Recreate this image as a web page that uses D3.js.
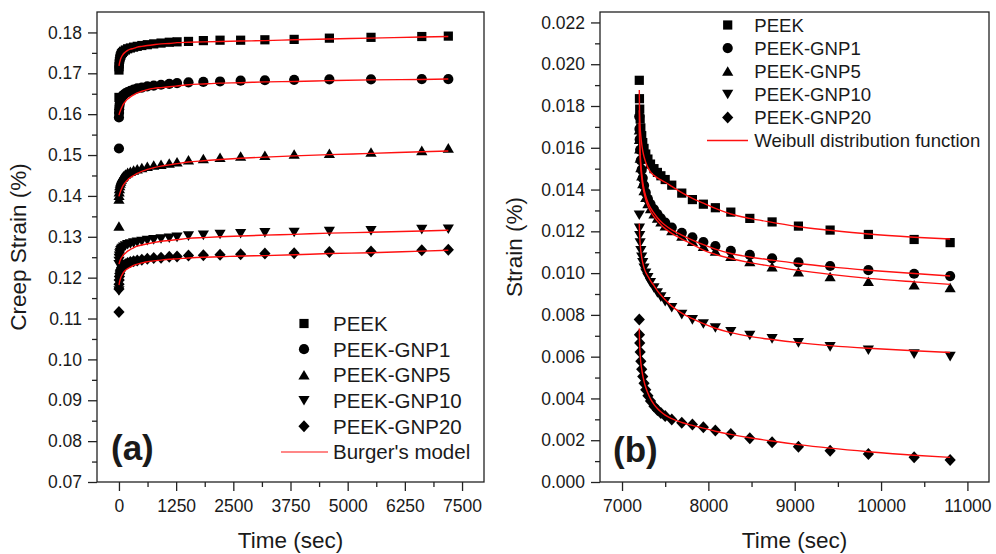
<!DOCTYPE html>
<html>
<head>
<meta charset="utf-8">
<style>
    body { margin: 0; background: #fff; }
    svg text { font-family: "Liberation Sans", Arial, sans-serif; fill: #1a1a1a; }
</style>
</head>
<body>
<script src="https://cdn.jsdelivr.net/npm/d3@7"></script>
<script>
var width = 996,
    height = 554;

var seriesNames = ["PEEK", "PEEK-GNP1", "PEEK-GNP5", "PEEK-GNP10", "PEEK-GNP20"];
var symbols = ["square", "circle", "triangle", "triangleDown", "diamond"];

// (a) creep, time in sec
var timeA = [0, 2, 5, 10, 18, 28, 40, 55, 75, 100, 140, 190, 250, 320, 400, 500, 620, 760, 920, 1100, 1270, 1520, 1845, 2210, 2660, 3190, 3830, 4600, 5510, 6620, 7200];
var peekA = [0.1708, 0.1716, 0.1723, 0.1729, 0.1735, 0.1740, 0.1744, 0.1748, 0.1751, 0.1754, 0.1757, 0.1760, 0.1762, 0.1764, 0.1766, 0.1768, 0.1770, 0.1772, 0.1774, 0.1776, 0.1777, 0.1778, 0.1780, 0.1781, 0.1781, 0.1782, 0.1783, 0.1786, 0.1788, 0.1790, 0.1791];
var gnp1A = [0.1592, 0.1603, 0.1612, 0.1620, 0.1627, 0.1632, 0.1637, 0.1641, 0.1644, 0.1647, 0.1651, 0.1654, 0.1657, 0.1660, 0.1663, 0.1665, 0.1668, 0.1670, 0.1672, 0.1674, 0.1676, 0.1678, 0.1679, 0.1680, 0.1682, 0.1683, 0.1684, 0.1685, 0.1685, 0.1686, 0.1686];
var gnp5A = [0.1392, 0.1401, 0.1410, 0.1418, 0.1425, 0.1431, 0.1436, 0.1441, 0.1445, 0.1449, 0.1453, 0.1457, 0.1460, 0.1463, 0.1466, 0.1469, 0.1472, 0.1475, 0.1477, 0.1480, 0.1483, 0.1488, 0.1491, 0.1494, 0.1497, 0.1499, 0.1502, 0.1504, 0.1507, 0.1511, 0.1517];
var gnp10A = [0.1232, 0.1240, 0.1247, 0.1253, 0.1258, 0.1262, 0.1266, 0.1269, 0.1272, 0.1275, 0.1278, 0.1281, 0.1283, 0.1285, 0.1287, 0.1289, 0.1291, 0.1293, 0.1295, 0.1297, 0.1299, 0.1302, 0.1304, 0.1306, 0.1308, 0.1310, 0.1311, 0.1313, 0.1315, 0.1318, 0.1319];
var gnp20A = [0.1172, 0.1184, 0.1194, 0.1203, 0.1210, 0.1216, 0.1220, 0.1224, 0.1227, 0.1230, 0.1233, 0.1236, 0.1238, 0.1240, 0.1242, 0.1244, 0.1246, 0.1248, 0.1249, 0.1251, 0.1252, 0.1254, 0.1255, 0.1256, 0.1257, 0.1259, 0.1260, 0.1263, 0.1264, 0.1267, 0.1268];
// first reading of every sample at t = 0
var firstA = [0.1641, 0.1516, 0.1326, 0.1168, 0.1116];

// Burger's model fits
var peekFitA = [0.1718, 0.1719, 0.1721, 0.1724, 0.1728, 0.1732, 0.1736, 0.1740, 0.1744, 0.1748, 0.1752, 0.1756, 0.1759, 0.1761, 0.1764, 0.1766, 0.1768, 0.1770, 0.1772, 0.1773, 0.1775, 0.1776, 0.1777, 0.1778, 0.1779, 0.1780, 0.1782, 0.1784, 0.1786, 0.1789, 0.1790];
var gnp1FitA = [0.1598, 0.1599, 0.1600, 0.1602, 0.1605, 0.1608, 0.1611, 0.1615, 0.1620, 0.1625, 0.1631, 0.1637, 0.1642, 0.1647, 0.1652, 0.1656, 0.1660, 0.1663, 0.1665, 0.1667, 0.1669, 0.1672, 0.1674, 0.1676, 0.1677, 0.1679, 0.1680, 0.1682, 0.1684, 0.1685, 0.1686];
var gnp5FitA = [0.1399, 0.1400, 0.1401, 0.1403, 0.1406, 0.1409, 0.1413, 0.1417, 0.1422, 0.1427, 0.1433, 0.1439, 0.1445, 0.1450, 0.1455, 0.1460, 0.1465, 0.1469, 0.1473, 0.1476, 0.1479, 0.1483, 0.1486, 0.1489, 0.1492, 0.1495, 0.1498, 0.1501, 0.1504, 0.1508, 0.1510];
var gnp10FitA = [0.1233, 0.1234, 0.1235, 0.1237, 0.1240, 0.1243, 0.1246, 0.1249, 0.1252, 0.1256, 0.1260, 0.1265, 0.1269, 0.1273, 0.1277, 0.1280, 0.1283, 0.1286, 0.1289, 0.1291, 0.1293, 0.1296, 0.1298, 0.1300, 0.1302, 0.1304, 0.1306, 0.1309, 0.1311, 0.1314, 0.1316];
var gnp20FitA = [0.1182, 0.1183, 0.1185, 0.1188, 0.1192, 0.1196, 0.1200, 0.1204, 0.1208, 0.1213, 0.1218, 0.1222, 0.1226, 0.1230, 0.1233, 0.1236, 0.1239, 0.1241, 0.1243, 0.1245, 0.1246, 0.1248, 0.1250, 0.1251, 0.1253, 0.1254, 0.1256, 0.1259, 0.1261, 0.1265, 0.1267];

// (b) recovery
var timeB = [7200, 7202, 7205, 7210, 7218, 7228, 7240, 7255, 7275, 7300, 7330, 7370, 7410, 7450, 7500, 7576, 7692, 7815, 7942, 8081, 8260, 8480, 8738, 9043, 9410, 9853, 10383, 10800];
var peekB = [0.01923, 0.01835, 0.01785, 0.01738, 0.01695, 0.01658, 0.01625, 0.01597, 0.01570, 0.01546, 0.01522, 0.01500, 0.01482, 0.01466, 0.01448, 0.01421, 0.01383, 0.01352, 0.01330, 0.01313, 0.01292, 0.01262, 0.01245, 0.01225, 0.01206, 0.01185, 0.01161, 0.01146];
var gnp1B = [0.01750, 0.01690, 0.01640, 0.01590, 0.01540, 0.01495, 0.01455, 0.01420, 0.01385, 0.01355, 0.01330, 0.01305, 0.01282, 0.01262, 0.01242, 0.01218, 0.01193, 0.01171, 0.01149, 0.01129, 0.01107, 0.01087, 0.01071, 0.01051, 0.01034, 0.01014, 0.00997, 0.00986];
var gnp5B = [0.01685, 0.01640, 0.01595, 0.01550, 0.01505, 0.01465, 0.01428, 0.01395, 0.01362, 0.01333, 0.01308, 0.01283, 0.01263, 0.01245, 0.01226, 0.01203, 0.01177, 0.01152, 0.01128, 0.01105, 0.01080, 0.01055, 0.01030, 0.01006, 0.00983, 0.00960, 0.00943, 0.00930];
var gnp10B = [0.01278, 0.01215, 0.01180, 0.01145, 0.01108, 0.01077, 0.01050, 0.01024, 0.01000, 0.00978, 0.00955, 0.00930, 0.00906, 0.00886, 0.00864, 0.00835, 0.00802, 0.00777, 0.00757, 0.00738, 0.00720, 0.00702, 0.00686, 0.00667, 0.00648, 0.00632, 0.00613, 0.00601];
var gnp20B = [0.00778, 0.00705, 0.00665, 0.00622, 0.00578, 0.00540, 0.00505, 0.00473, 0.00442, 0.00413, 0.00388, 0.00363, 0.00345, 0.00330, 0.00316, 0.00299, 0.00284, 0.00275, 0.00262, 0.00246, 0.00230, 0.00209, 0.00190, 0.00169, 0.00150, 0.00134, 0.00118, 0.00105];

// Weibull distribution fits
var peekFitB = [0.01876, 0.01800, 0.01750, 0.01700, 0.01655, 0.01618, 0.01585, 0.01557, 0.01530, 0.01505, 0.01485, 0.01468, 0.01456, 0.01446, 0.01435, 0.01415, 0.01385, 0.01358, 0.01335, 0.01310, 0.01283, 0.01262, 0.01243, 0.01222, 0.01205, 0.01187, 0.01172, 0.01163];
var gnp1FitB = [0.01780, 0.01700, 0.01640, 0.01580, 0.01525, 0.01478, 0.01437, 0.01402, 0.01368, 0.01338, 0.01312, 0.01287, 0.01265, 0.01247, 0.01229, 0.01207, 0.01182, 0.01158, 0.01136, 0.01115, 0.01094, 0.01077, 0.01062, 0.01046, 0.01030, 0.01014, 0.00998, 0.00986];
var gnp5FitB = [0.01720, 0.01660, 0.01605, 0.01550, 0.01500, 0.01457, 0.01418, 0.01385, 0.01352, 0.01322, 0.01296, 0.01270, 0.01250, 0.01232, 0.01213, 0.01190, 0.01163, 0.01138, 0.01110, 0.01090, 0.01070, 0.01050, 0.01033, 0.01013, 0.00994, 0.00975, 0.00958, 0.00946];
var gnp10FitB = [0.01238, 0.01205, 0.01175, 0.01140, 0.01105, 0.01075, 0.01050, 0.01025, 0.01003, 0.00985, 0.00963, 0.00940, 0.00915, 0.00895, 0.00872, 0.00842, 0.00808, 0.00782, 0.00758, 0.00736, 0.00715, 0.00697, 0.00682, 0.00667, 0.00653, 0.00640, 0.00628, 0.00620];
var gnp20FitB = [0.00735, 0.00690, 0.00650, 0.00610, 0.00570, 0.00540, 0.00510, 0.00482, 0.00452, 0.00425, 0.00398, 0.00372, 0.00352, 0.00336, 0.00320, 0.00303, 0.00285, 0.00271, 0.00258, 0.00243, 0.00228, 0.00212, 0.00196, 0.00179, 0.00162, 0.00145, 0.00128, 0.00118];

// ticks
var xTicksA = [0, 1250, 2500, 3750, 5000, 6250, 7500];
var xMinorA = [625, 1875, 3125, 4375, 5625, 6875];
var yTicksA = [0.07, 0.08, 0.09, 0.10, 0.11, 0.12, 0.13, 0.14, 0.15, 0.16, 0.17, 0.18];
var yMinorA = [0.075, 0.085, 0.095, 0.105, 0.115, 0.125, 0.135, 0.145, 0.155, 0.165, 0.175];
var xTicksB = [7000, 8000, 9000, 10000, 11000];
var xMinorB = [7500, 8500, 9500, 10500];
var yTicksB = [0, 0.002, 0.004, 0.006, 0.008, 0.010, 0.012, 0.014, 0.016, 0.018, 0.020, 0.022];
var yMinorB = [0.001, 0.003, 0.005, 0.007, 0.009, 0.011, 0.013, 0.015, 0.017, 0.019, 0.021];

var svg = d3.select("body")
    .append("svg")
    .attr("width", width)
    .attr("height", height);

function symbolPath(type) {
    switch (type) {
        case "square": return "M-4.6,-4.6h9.2v9.2h-9.2z";
        case "circle": return "M5.1,0A5.1,5.1 0 1,1 -5.1,0A5.1,5.1 0 1,1 5.1,0Z";
        case "triangle": return "M0,-5L5.6,4.6L-5.6,4.6Z";
        case "triangleDown": return "M0,5L5.6,-4.6L-5.6,-4.6Z";
        default: return "M0,-6L5.6,0L0,6L-5.6,0Z";
    }
}

function styleAxis(sel) {
    sel.select(".domain").remove();
    sel.attr("font-size", 17.5).attr("font-family", null);
    sel.selectAll("line").attr("stroke", "#222").attr("stroke-width", 1.3);
    sel.selectAll("text").attr("fill", "#1a1a1a");
}

function drawPanel(p) {
    var g = svg.append("g");
    var x = d3.scaleLinear().domain(p.xDomain).range([p.left, p.right]);
    var y = d3.scaleLinear().domain(p.yDomain).range([p.bottom, p.top]);

    g.append("g").attr("transform", "translate(0," + p.bottom + ")")
        .call(d3.axisBottom(x).tickValues(p.xMinor).tickSize(5).tickFormat(""))
        .call(styleAxis);
    g.append("g").attr("transform", "translate(0," + p.bottom + ")")
        .call(d3.axisBottom(x).tickValues(p.xTicks).tickSize(9).tickPadding(9).tickFormat(d3.format("d")))
        .call(styleAxis);
    g.append("g").attr("transform", "translate(" + p.left + ",0)")
        .call(d3.axisLeft(y).tickValues(p.yMinor).tickSize(5).tickFormat(""))
        .call(styleAxis);
    g.append("g").attr("transform", "translate(" + p.left + ",0)")
        .call(d3.axisLeft(y).tickValues(p.yTicks).tickSize(9).tickPadding(6).tickFormat(d3.format(p.yFormat)))
        .call(styleAxis);

    g.append("rect")
        .attr("x", p.left).attr("y", p.top)
        .attr("width", p.right - p.left).attr("height", p.bottom - p.top)
        .attr("fill", "none").attr("stroke", "#222").attr("stroke-width", 1.3);

    // markers
    p.series.forEach(function (vals, i) {
        var pts = d3.zip(p.time, vals);
        if (p.first) pts.unshift([0, p.first[i]]);
        g.append("g").selectAll("path")
            .data(pts)
            .enter()
            .append("path")
            .attr("d", symbolPath(symbols[i]))
            .attr("fill", "#000")
            .attr("transform", function (d) {
                return "translate(" + x(d[0]) + "," + y(d[1]) + ")";
            });
    });

    // fitted curves
    var line = d3.line()
        .x(function (d) { return x(d[0]); })
        .y(function (d) { return y(d[1]); })
        .curve(d3.curveMonotoneX);
    p.fits.forEach(function (vals) {
        g.append("path")
            .datum(d3.zip(p.time, vals))
            .attr("d", line)
            .attr("fill", "none")
            .attr("stroke", "#ff1010")
            .attr("stroke-width", 1.4);
    });

    // axis titles
    g.append("text")
        .attr("x", (p.left + p.right) / 2).attr("y", 548)
        .attr("text-anchor", "middle").attr("font-size", 22.5)
        .text("Time (sec)");
    g.append("text")
        .attr("transform", "translate(" + p.yTitleX + "," + (p.top + p.bottom) / 2 + ") rotate(-90)")
        .attr("text-anchor", "middle").attr("font-size", 22.5)
        .text(p.yTitle);

    // panel label
    g.append("text")
        .attr("x", p.tag[0]).attr("y", p.tag[1])
        .attr("font-size", 35).attr("font-weight", "bold")
        .text(p.tagText);

    // legend
    var lg = p.legend;
    seriesNames.forEach(function (name, i) {
        var ry = lg.y0 + i * lg.dy;
        g.append("path")
            .attr("d", symbolPath(symbols[i]))
            .attr("fill", "#000")
            .attr("transform", "translate(" + lg.mx + "," + ry + ")");
        g.append("text")
            .attr("x", lg.tx).attr("y", ry).attr("dy", "0.36em")
            .attr("font-size", lg.fs)
            .text(name);
    });
    var ly = lg.y0 + 5 * lg.dy;
    g.append("line")
        .attr("x1", lg.l1).attr("x2", lg.l2)
        .attr("y1", ly).attr("y2", ly)
        .attr("stroke", "#ff1010").attr("stroke-width", lg.lw);
    g.append("text")
        .attr("x", lg.tx).attr("y", ly).attr("dy", "0.36em")
        .attr("font-size", lg.fs)
        .text(lg.lineText);
}

drawPanel({
    left: 97, right: 484, top: 12, bottom: 482,
    xDomain: [-480, 7980], yDomain: [0.07, 0.185],
    xTicks: xTicksA, xMinor: xMinorA, yTicks: yTicksA, yMinor: yMinorA,
    yFormat: ".2f",
    time: timeA,
    series: [peekA, gnp1A, gnp5A, gnp10A, gnp20A],
    first: firstA,
    fits: [peekFitA, gnp1FitA, gnp5FitA, gnp10FitA, gnp20FitA],
    yTitle: "Creep Strain (%)", yTitleX: 26,
    tag: [111, 460], tagText: "(a)",
    legend: { mx: 304, tx: 333, y0: 323.5, dy: 25.7, fs: 20.5, l1: 281, l2: 328, lw: 1.1, lineText: "Burger's model" }
});

drawPanel({
    left: 600, right: 989, top: 12, bottom: 482,
    xDomain: [6745, 11250], yDomain: [0, 0.0225],
    xTicks: xTicksB, xMinor: xMinorB, yTicks: yTicksB, yMinor: yMinorB,
    yFormat: ".3f",
    time: timeB,
    series: [peekB, gnp1B, gnp5B, gnp10B, gnp20B],
    first: null,
    fits: [peekFitB, gnp1FitB, gnp5FitB, gnp10FitB, gnp20FitB],
    yTitle: "Strain (%)", yTitleX: 522,
    tag: [613, 462], tagText: "(b)",
    legend: { mx: 727.7, tx: 754.3, y0: 25, dy: 23.1, fs: 18.6, l1: 707, l2: 748, lw: 1.6, lineText: "Weibull distribution function" }
});
</script>
</body>
</html>
